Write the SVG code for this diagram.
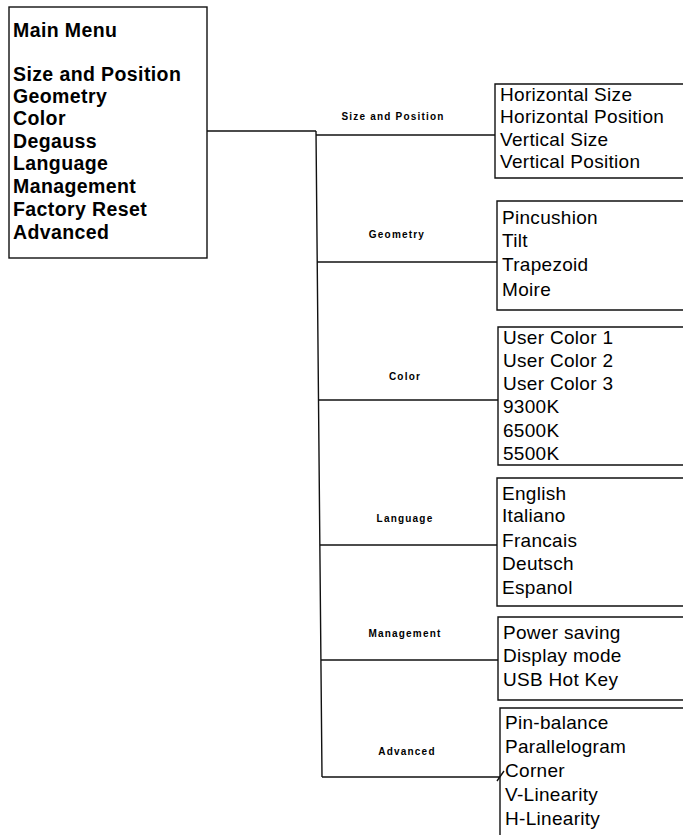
<svg xmlns="http://www.w3.org/2000/svg" width="683" height="835" viewBox="0 0 683 835">
<style>
.bg{fill:#fff}
.box{fill:none;stroke:#111;stroke-width:1.4}
.ln{fill:none;stroke:#111;stroke-width:1.4}
.mm{font-family:"Liberation Sans",Arial,sans-serif;font-weight:bold;font-size:19.5px;letter-spacing:0.4px;fill:#000}
.sub{font-family:"Liberation Sans",Arial,sans-serif;font-size:19px;letter-spacing:0.3px;fill:#000}
.lbl{font-family:"Liberation Sans",Arial,sans-serif;font-weight:bold;font-size:10px;letter-spacing:1.2px;fill:#000;text-anchor:middle}
</style>
<rect class="bg" x="0" y="0" width="683" height="835"/>
<g id="main-menu">
<rect class="box" x="9" y="7" width="198" height="251"/>
<text class="mm" x="13" y="37">Main Menu</text>
<text class="mm" x="13" y="81">Size and Position</text>
<text class="mm" x="13" y="103">Geometry</text>
<text class="mm" x="13" y="125">Color</text>
<text class="mm" x="13" y="148">Degauss</text>
<text class="mm" x="13" y="170">Language</text>
<text class="mm" x="13" y="193">Management</text>
<text class="mm" x="13" y="216">Factory Reset</text>
<text class="mm" x="13" y="239">Advanced</text>
</g>
<g id="connectors">
<path class="ln" d="M207,131 H316 M316,131 L322,777"/>
<path class="ln" d="M316,135 H495"/>
<path class="ln" d="M317,262 H497"/>
<path class="ln" d="M318,400 H498"/>
<path class="ln" d="M320,545 H497"/>
<path class="ln" d="M321,660 H498"/>
<path class="ln" d="M322,777 H500 M497,781 L504,771"/>
<text class="lbl" x="393" y="120">Size and Position</text>
<text class="lbl" x="397" y="238">Geometry</text>
<text class="lbl" x="405" y="380">Color</text>
<text class="lbl" x="405" y="522">Language</text>
<text class="lbl" x="405" y="637">Management</text>
<text class="lbl" x="407" y="755">Advanced</text>
</g>
<g id="size-position">
<path class="box" d="M683,84 H495 V178 H683"/>
<text class="sub" x="500" y="101">Horizontal Size</text>
<text class="sub" x="500" y="123">Horizontal Position</text>
<text class="sub" x="500" y="146">Vertical Size</text>
<text class="sub" x="500" y="168">Vertical Position</text>
</g>
<g id="geometry">
<path class="box" d="M683,201 H497 V310 H683"/>
<text class="sub" x="502" y="224">Pincushion</text>
<text class="sub" x="502" y="247">Tilt</text>
<text class="sub" x="502" y="271">Trapezoid</text>
<text class="sub" x="502" y="296">Moire</text>
</g>
<g id="color">
<path class="box" d="M683,327 H498 V465 H683"/>
<text class="sub" x="503" y="344">User Color 1</text>
<text class="sub" x="503" y="367">User Color 2</text>
<text class="sub" x="503" y="390">User Color 3</text>
<text class="sub" x="503" y="413">9300K</text>
<text class="sub" x="503" y="437">6500K</text>
<text class="sub" x="503" y="460">5500K</text>
</g>
<g id="language">
<path class="box" d="M683,478 H497 V606 H683"/>
<text class="sub" x="502" y="500">English</text>
<text class="sub" x="502" y="522">Italiano</text>
<text class="sub" x="502" y="547">Francais</text>
<text class="sub" x="502" y="570">Deutsch</text>
<text class="sub" x="502" y="594">Espanol</text>
</g>
<g id="management">
<path class="box" d="M683,617 H498 V700 H683"/>
<text class="sub" x="503" y="639">Power saving</text>
<text class="sub" x="503" y="662">Display mode</text>
<text class="sub" x="503" y="686">USB Hot Key</text>
</g>
<g id="advanced">
<path class="box" d="M683,708 H500 V835"/>
<text class="sub" x="505" y="729">Pin-balance</text>
<text class="sub" x="505" y="753">Parallelogram</text>
<text class="sub" x="505" y="777">Corner</text>
<text class="sub" x="505" y="801">V-Linearity</text>
<text class="sub" x="505" y="825">H-Linearity</text>
</g>
</svg>
